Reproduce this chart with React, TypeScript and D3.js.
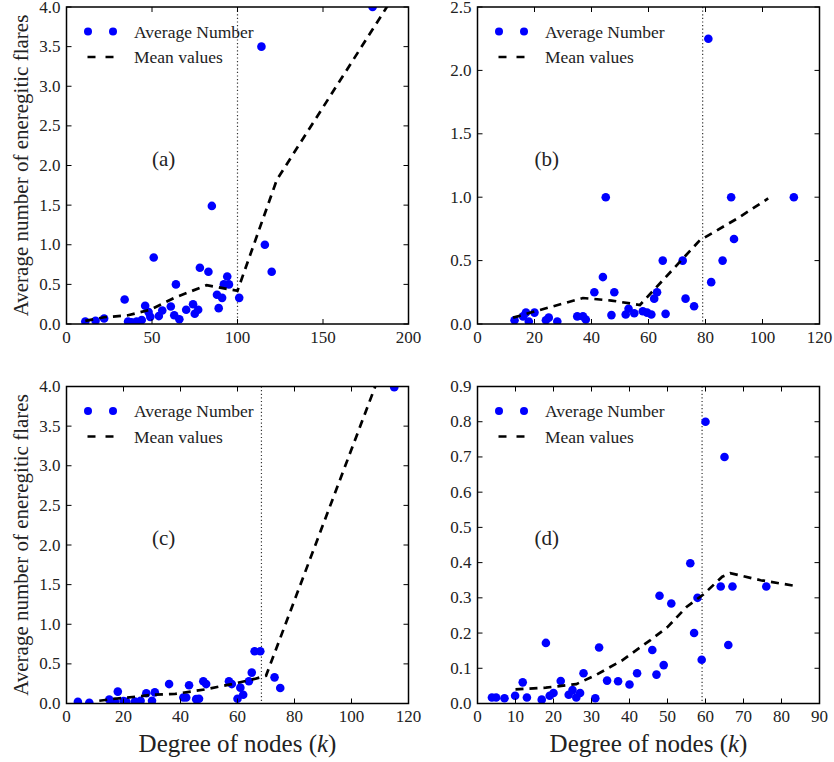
import React from "react";
import * as d3 from "d3";

type Pt = [number, number];

// ---------- Panel (a) ----------
const pointsA: Pt[] = [
  [11, 0.03], [17, 0.04], [22, 0.07], [34, 0.31], [36, 0.03], [38, 0.02], [41, 0.03], [44, 0.05],
  [46, 0.23], [48, 0.15], [49, 0.09], [51, 0.84], [54, 0.1], [56, 0.17], [61, 0.22], [63, 0.11],
  [64, 0.5], [66, 0.06], [70, 0.18], [74, 0.25], [75, 0.13], [77, 0.18], [78, 0.71], [83, 0.66],
  [85, 1.49], [88, 0.37], [89, 0.2], [91, 0.33], [92, 0.5], [94, 0.6], [95, 0.5], [101, 0.33],
  [114, 3.5], [116, 1.0], [120, 0.66], [179, 4.0],
];
const meanA: Pt[] = [
  [11, 0.04], [22, 0.085], [36, 0.11], [49, 0.18], [63, 0.33], [82, 0.49], [97, 0.43],
  [100, 0.42], [123, 1.82], [190, 4.09],
];
const vlineA = 100;
const xTicksA = [0, 50, 100, 150, 200];
const yTicksA = [0, 0.5, 1.0, 1.5, 2.0, 2.5, 3.0, 3.5, 4.0];

// ---------- Panel (b) ----------
const pointsB: Pt[] = [
  [13, 0.03], [16, 0.06], [17, 0.09], [18, 0.02], [20, 0.09], [24, 0.03], [25, 0.05], [28, 0.02],
  [35, 0.06], [37, 0.06], [38, 0.035], [41, 0.25], [44, 0.37], [45, 1.0], [47, 0.07], [48, 0.25],
  [52, 0.075], [53, 0.12], [55, 0.085], [58, 0.1], [59.5, 0.09], [61, 0.075], [62, 0.2], [63, 0.25],
  [65, 0.5], [66, 0.08], [72, 0.5], [73, 0.2], [76, 0.14], [81, 2.25], [82, 0.33], [86, 0.5],
  [89, 1.0], [90, 0.67], [111, 1.0],
];
const meanB: Pt[] = [
  [12.5, 0.05], [21, 0.105], [37, 0.205], [47, 0.185], [57, 0.15], [78, 0.66], [91, 0.83], [102, 0.99],
];
const vlineB = 79;
const xTicksB = [0, 20, 40, 60, 80, 100, 120];
const yTicksB = [0, 0.5, 1.0, 1.5, 2.0, 2.5];

// ---------- Panel (c) ----------
const pointsC: Pt[] = [
  [4, 0.02], [8, 0.01], [15, 0.05], [17, 0.02], [18, 0.15], [20, 0.03], [21, 0.02], [24, 0.025],
  [26, 0.035], [28, 0.13], [30, 0.035], [31, 0.14], [36, 0.245], [41, 0.075], [42, 0.075], [43, 0.23],
  [45.5, 0.055], [46.5, 0.06], [48, 0.28], [49, 0.245], [57, 0.28], [58, 0.245], [60, 0.06], [61, 0.2],
  [62, 0.11], [64, 0.28], [65, 0.39], [66, 0.66], [68, 0.66], [73, 0.33], [75, 0.195], [115, 3.99],
];
const meanC: Pt[] = [
  [11.5, 0.035], [17, 0.06], [24, 0.085], [30, 0.11], [38, 0.12], [49, 0.18], [58, 0.245],
  [66, 0.31], [70, 0.35], [110, 4.16],
];
const vlineC = 68.4;
const xTicksC = [0, 20, 40, 60, 80, 100, 120];
const yTicksC = [0, 0.5, 1.0, 1.5, 2.0, 2.5, 3.0, 3.5, 4.0];

// ---------- Panel (d) ----------
const pointsD: Pt[] = [
  [3.8, 0.017], [4.9, 0.017], [7.1, 0.015], [9.9, 0.022], [11.9, 0.06], [13, 0.017], [16.9, 0.011],
  [18, 0.172], [19, 0.022], [20, 0.03], [21.9, 0.064], [24, 0.025], [25, 0.038], [26, 0.017],
  [27, 0.03], [27.9, 0.086], [31, 0.015], [32, 0.159], [34.1, 0.065], [37, 0.063], [40, 0.054],
  [42, 0.086], [46, 0.152], [47.1, 0.082], [47.9, 0.306], [49, 0.109], [51, 0.284], [56, 0.398],
  [57, 0.2], [57.9, 0.3], [59, 0.124], [60, 0.8], [64, 0.332], [65, 0.7], [66, 0.166], [67.1, 0.332],
  [76, 0.332],
];
const meanD: Pt[] = [
  [10, 0.04], [18, 0.045], [26, 0.055], [31, 0.08], [38, 0.122], [45.5, 0.18], [50, 0.217],
  [55, 0.274], [59.5, 0.31], [64.4, 0.36], [66.5, 0.37], [74.5, 0.35], [83, 0.335],
];
const vlineD = 59.1;
const xTicksD = [0, 10, 20, 30, 40, 50, 60, 70, 80, 90];
const yTicksD = [0, 0.1, 0.2, 0.3, 0.4, 0.5, 0.6, 0.7, 0.8, 0.9];

const legendLabels = ["Average Number", "Mean values"];
const yAxisLabel = "Average number of eneregitic flares";

const FONT = "Liberation Serif";
const TEXT = "#222";
const textStyle = (size: number): React.CSSProperties => ({ fontFamily: FONT, fontSize: `${size}px` });

interface PanelProps {
  id: string;
  x0: number;
  y0: number;
  w: number;
  h: number;
  xDomain: [number, number];
  yDomain: [number, number];
  xTicks: number[];
  yTicks: number[];
  points: Pt[];
  mean: Pt[];
  vline: number;
  tag: string;
  tagPos: Pt;
  yFormat: string;
}

function Panel(p: PanelProps) {
  const x = d3.scaleLinear().domain(p.xDomain).range([p.x0, p.x0 + p.w]);
  const y = d3.scaleLinear().domain(p.yDomain).range([p.y0 + p.h, p.y0]);
  const line = d3
    .line<Pt>()
    .x((d) => x(d[0]))
    .y((d) => y(d[1]));
  const fmt = d3.format(p.yFormat);
  const tickLen = 5;
  const clipId = `clip-${p.id}`;
  const lx = p.x0;
  const ly = p.y0;
  return (
    <g>
      <defs>
        <clipPath id={clipId}>
          <rect x={p.x0} y={p.y0} width={p.w} height={p.h} />
        </clipPath>
      </defs>
      <g clipPath={`url(#${clipId})`}>
        <line
          x1={x(p.vline)}
          x2={x(p.vline)}
          y1={p.y0}
          y2={p.y0 + p.h}
          stroke="#333"
          strokeWidth={1.2}
          strokeDasharray="1.2,2.4"
        />
        {p.points.map((d, i) => (
          <circle key={i} cx={x(d[0])} cy={y(d[1])} r={4.3} fill="#0000ff" />
        ))}
        <path
          d={line(p.mean) || ""}
          fill="none"
          stroke="#000"
          strokeWidth={2.7}
          strokeDasharray="8,6"
        />
      </g>
      {p.xTicks.map((t) => (
        <g key={`xt${t}`}>
          <line x1={x(t)} x2={x(t)} y1={p.y0 + p.h} y2={p.y0 + p.h - tickLen} stroke="#000" strokeWidth={1} />
          <line x1={x(t)} x2={x(t)} y1={p.y0} y2={p.y0 + tickLen} stroke="#000" strokeWidth={1} />
          <text x={x(t)} y={p.y0 + p.h + 18.5} textAnchor="middle" style={textStyle(17)} fill={TEXT}>
            {String(t)}
          </text>
        </g>
      ))}
      {p.yTicks.map((t) => (
        <g key={`yt${t}`}>
          <line x1={p.x0} x2={p.x0 + tickLen} y1={y(t)} y2={y(t)} stroke="#000" strokeWidth={1} />
          <line x1={p.x0 + p.w} x2={p.x0 + p.w - tickLen} y1={y(t)} y2={y(t)} stroke="#000" strokeWidth={1} />
          <text x={p.x0 - 6} y={y(t) + 5.5} textAnchor="end" style={textStyle(17)} fill={TEXT}>
            {fmt(t)}
          </text>
        </g>
      ))}
      <rect x={p.x0} y={p.y0} width={p.w} height={p.h} fill="none" stroke="#000" strokeWidth={1.5} />
      <text x={x(p.tagPos[0])} y={y(p.tagPos[1])} style={textStyle(21)} fill={TEXT}>
        {p.tag}
      </text>
      <circle cx={lx + 21.5} cy={ly + 24.5} r={4} fill="#0000ff" />
      <circle cx={lx + 46.5} cy={ly + 24.5} r={4} fill="#0000ff" />
      <text x={lx + 67.5} y={ly + 30.5} style={textStyle(17.5)} fill={TEXT}>
        {legendLabels[0]}
      </text>
      <line
        x1={lx + 21}
        x2={lx + 47}
        y1={ly + 50}
        y2={ly + 50}
        stroke="#000"
        strokeWidth={2.7}
        strokeDasharray="8,10"
      />
      <text x={lx + 67.5} y={ly + 56} style={textStyle(17.5)} fill={TEXT}>
        {legendLabels[1]}
      </text>
    </g>
  );
}

export default function App() {
  const W = 834;
  const H = 762;
  const LX = 66.5;
  const RX = 477.5;
  const PW = 342;
  const TY = 7;
  const BY = 386.5;
  const PH = 317;
  return (
    <svg width={W} height={H} style={{ display: "block", position: "absolute", left: 0, top: 0 }}>
      <rect x={0} y={0} width={W} height={H} fill="#fff" />
      <Panel id="a" x0={LX} y0={TY} w={PW} h={PH} xDomain={[0, 200]} yDomain={[0, 4]}
        xTicks={xTicksA} yTicks={yTicksA} points={pointsA} mean={meanA} vline={vlineA}
        tag="(a)" tagPos={[50, 2.0]} yFormat=".1f" />
      <Panel id="b" x0={RX} y0={TY} w={PW} h={PH} xDomain={[0, 120]} yDomain={[0, 2.5]}
        xTicks={xTicksB} yTicks={yTicksB} points={pointsB} mean={meanB} vline={vlineB}
        tag="(b)" tagPos={[20, 1.25]} yFormat=".1f" />
      <Panel id="c" x0={LX} y0={BY} w={PW} h={PH} xDomain={[0, 120]} yDomain={[0, 4]}
        xTicks={xTicksC} yTicks={yTicksC} points={pointsC} mean={meanC} vline={vlineC}
        tag="(c)" tagPos={[30, 2.0]} yFormat=".1f" />
      <Panel id="d" x0={RX} y0={BY} w={PW} h={PH} xDomain={[0, 90]} yDomain={[0, 0.9]}
        xTicks={xTicksD} yTicks={yTicksD} points={pointsD} mean={meanD} vline={vlineD}
        tag="(d)" tagPos={[15, 0.45]} yFormat=".1f" />
      <text transform={`translate(28,${TY + PH / 2}) rotate(-90)`} textAnchor="middle"
        style={textStyle(21)} fill={TEXT}>{yAxisLabel}</text>
      <text transform={`translate(28,${BY + PH / 2}) rotate(-90)`} textAnchor="middle"
        style={textStyle(21)} fill={TEXT}>{yAxisLabel}</text>
      <text x={LX + PW / 2} y={752} textAnchor="middle" style={textStyle(25)} fill={TEXT}>
        Degree of nodes (<tspan fontStyle="italic">k</tspan>)
      </text>
      <text x={RX + PW / 2} y={752} textAnchor="middle" style={textStyle(25)} fill={TEXT}>
        Degree of nodes (<tspan fontStyle="italic">k</tspan>)
      </text>
    </svg>
  );
}
